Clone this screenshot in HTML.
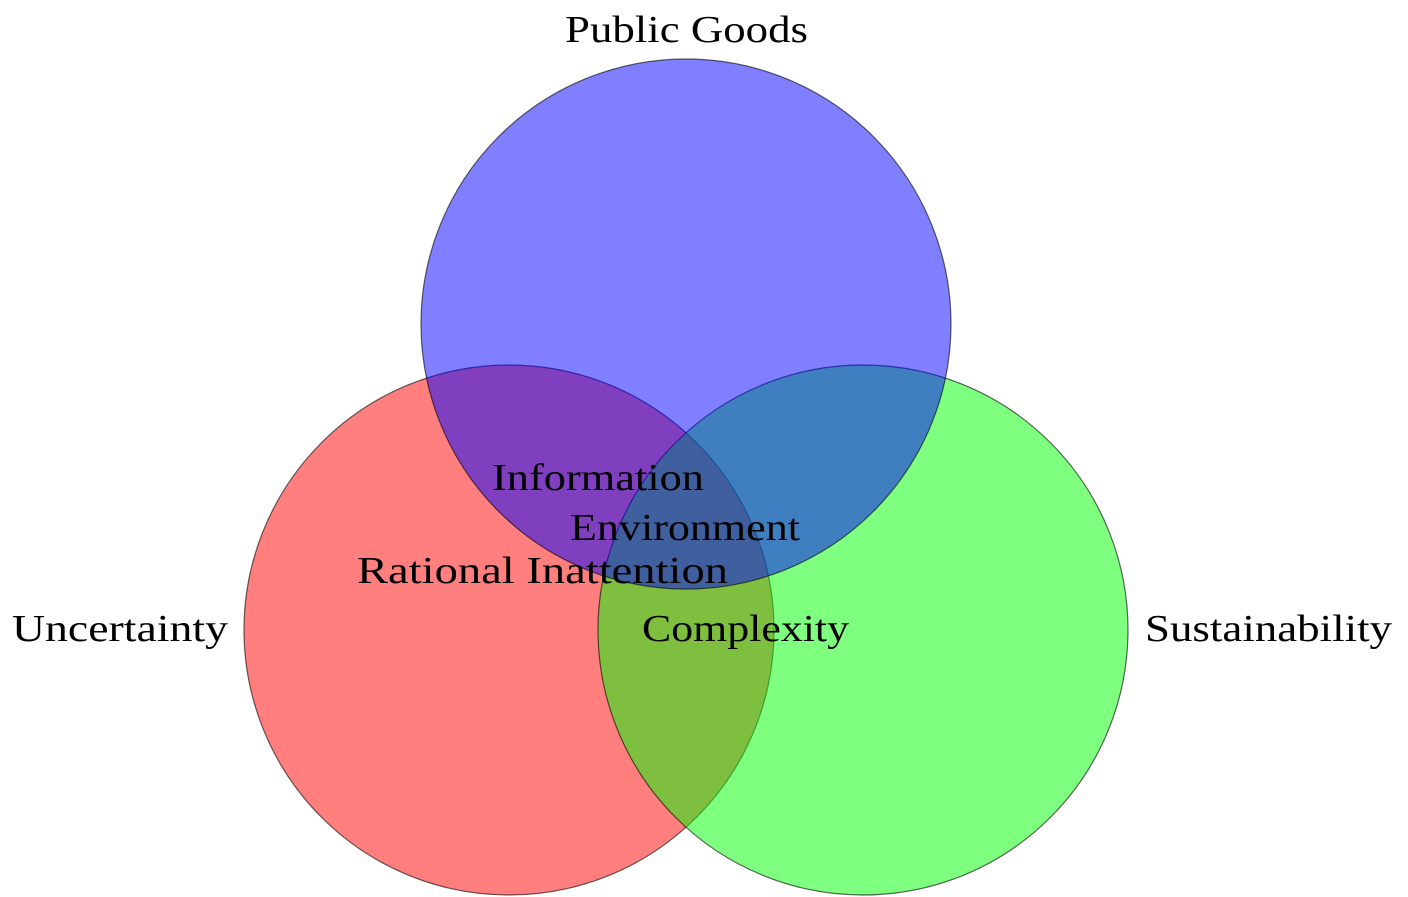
<!DOCTYPE html>
<html><head><style>html,body{margin:0;padding:0;background:#fff}svg{display:block}</style></head>
<body>
<svg width="1408" height="897" viewBox="0 0 1408 897" xmlns="http://www.w3.org/2000/svg" font-family="'Liberation Serif', serif" font-size="38">
<circle cx="509" cy="630" r="265" fill="#ff0000" fill-opacity="0.5" stroke="#000" stroke-opacity="0.6" stroke-width="1.2"/>
<circle cx="863" cy="630" r="265" fill="#00ff00" fill-opacity="0.5" stroke="#000" stroke-opacity="0.6" stroke-width="1.2"/>
<circle cx="686" cy="324" r="265" fill="#0000ff" fill-opacity="0.5" stroke="#000" stroke-opacity="0.6" stroke-width="1.2"/>
<g fill="#000">
<text x="565" y="42" textLength="243" lengthAdjust="spacingAndGlyphs">Public Goods</text>
<text x="12" y="641" textLength="216" lengthAdjust="spacingAndGlyphs">Uncertainty</text>
<text x="1145" y="641" textLength="247" lengthAdjust="spacingAndGlyphs">Sustainability</text>
<text x="492" y="490" textLength="212" lengthAdjust="spacingAndGlyphs">Information</text>
<text x="570" y="540" textLength="230" lengthAdjust="spacingAndGlyphs">Environment</text>
<text x="357" y="583" textLength="371" lengthAdjust="spacingAndGlyphs">Rational Inattention</text>
<text x="642" y="641" textLength="207" lengthAdjust="spacingAndGlyphs">Complexity</text>
</g>
</svg>
</body></html>
